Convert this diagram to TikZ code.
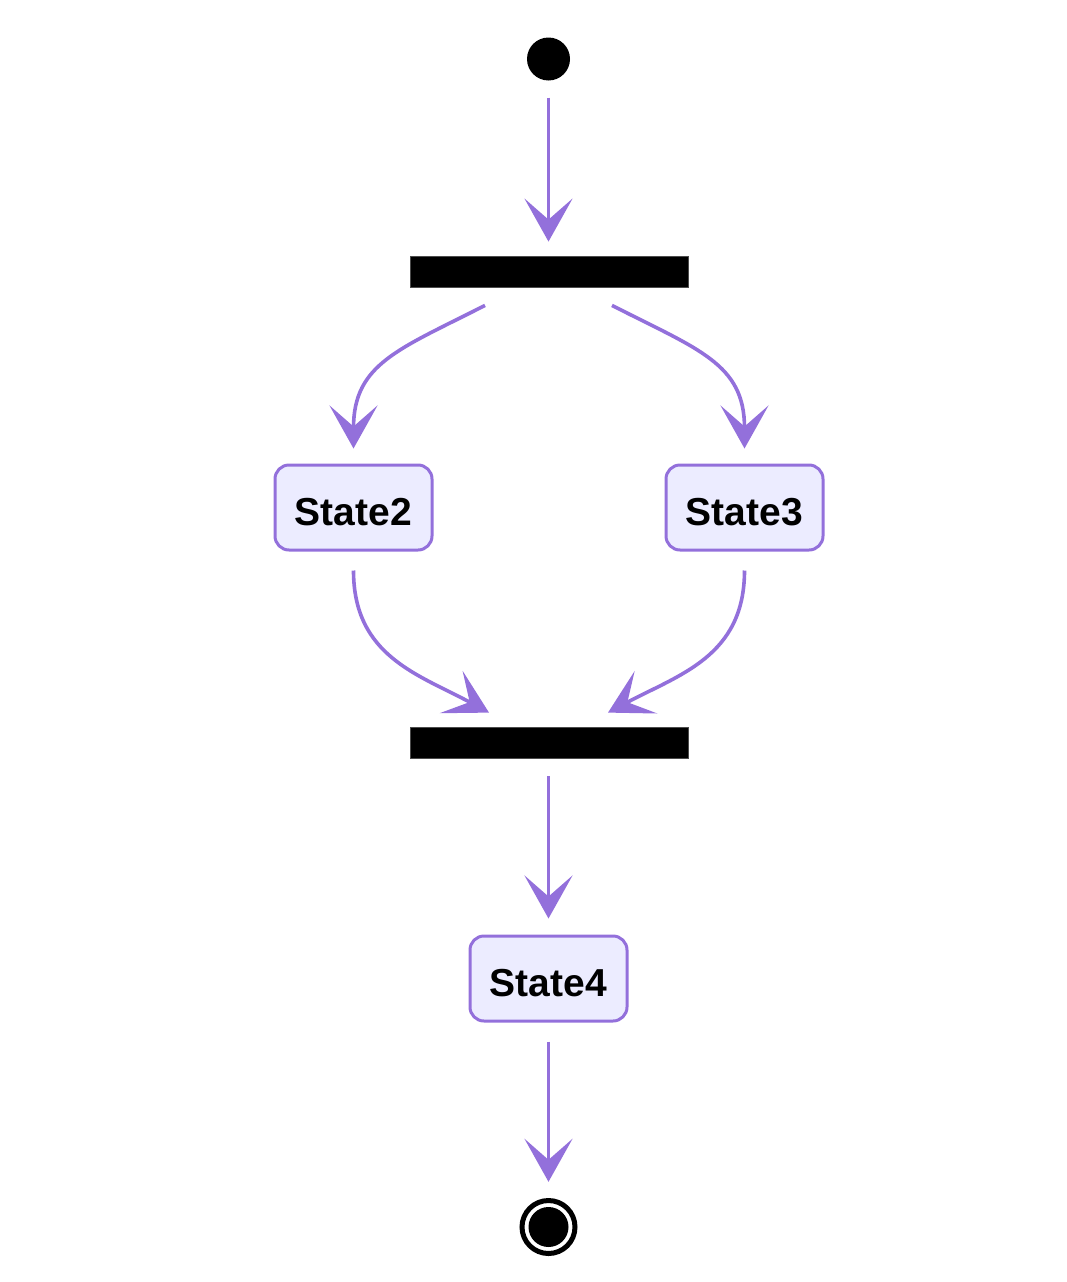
\documentclass[tikz,border=0pt]{standalone}
\usepackage{fontspec}
\setmainfont{Liberation Sans}
\usetikzlibrary{arrows.meta,calc}
\definecolor{edgec}{HTML}{9370DB}
\definecolor{statefill}{HTML}{ECECFF}
\tikzset{
  statebox/.style={draw=edgec, fill=statefill, line width=3pt, rounded corners=14pt,
    minimum width=157pt, minimum height=85pt, inner sep=0pt,
    text height=36pt, text depth=0pt,
    font=\fontsize{39}{46}\selectfont\bfseries, text=black},
  barbox/.style={fill=black, draw=black!70, line width=0.8pt, minimum width=278pt, minimum height=31pt, inner sep=0pt},
  startdot/.style={circle, fill=black, minimum size=43pt, inner sep=0pt},
  enddot/.style={circle, fill=black, minimum size=40pt, inner sep=0pt},
  arr/.style={draw=edgec, line width=3.6pt,
    -{Stealth[length=43pt, width=48pt, inset=21pt, fill=edgec]}},
}
\begin{document}
\begin{tikzpicture}[x=1pt,y=-1pt]
\useasboundingbox (0,0) rectangle (1066,1282);
\node[startdot] (start) at (548.5,59) {};
\node[barbox] (fork) at (549,271.5) {};
\node[statebox] (s2) at (353.5,507.5) {State2};
\node[statebox] (s3) at (744.5,507.5) {State3};
\node[barbox] (join) at (549,742.5) {};
\node[statebox] (s4) at (548.5,978.5) {State4};
\node[enddot] (end) at (548.5,1227) {};
\draw[line width=5pt] (end.center) circle[radius=26.5];

\draw[arr, shorten <=17pt, shorten >=14pt] (start) -- (start |- fork.north);
\draw[arr] ($(fork.south)+(-64,18)$) .. controls ($(fork.south)+(-150,62)$) and ($(s2.north)+(0,-100)$) .. ($(s2.north)+(0,-15)$);
\draw[arr] ($(fork.south)+(63,18)$) .. controls ($(fork.south)+(149,62)$) and ($(s3.north)+(0,-100)$) .. ($(s3.north)+(0,-15)$);
\draw[arr] ($(s2.south)+(0,19)$) .. controls ($(s2.south)+(0,105)$) and ($(join.north)+(-130,-52)$) .. ($(join.north)+(-60,-14)$);
\draw[arr] ($(s3.south)+(0,19)$) .. controls ($(s3.south)+(0,105)$) and ($(join.north)+(130,-52)$) .. ($(join.north)+(59,-14)$);
\draw[arr, shorten <=18pt, shorten >=16pt] (s4 |- join.south) -- (s4);
\draw[arr, shorten <=19pt, shorten >=25pt] (s4) -- (end.north);
\end{tikzpicture}
\end{document}
